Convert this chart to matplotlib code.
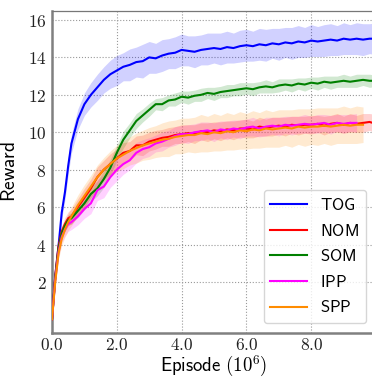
import numpy as np
import matplotlib
matplotlib.use('Agg')
import matplotlib.pyplot as plt
from matplotlib.ticker import FuncFormatter

plt.rcParams['mathtext.fontset'] = 'cm'

# episodes (10^6)
episodes = [0.0, 0.1, 0.2, 0.3, 0.4, 0.5, 0.6, 0.8, 1.0, 1.2,
            1.4, 1.6, 1.8, 2.0, 2.2, 2.4, 2.6, 2.8, 3.0, 3.2,
            3.4, 3.6, 3.8, 4.0, 4.2, 4.4, 4.6, 4.8, 5.0, 5.2,
            5.4, 5.6, 5.8, 6.0, 6.2, 6.4, 6.6, 6.8, 7.0, 7.2,
            7.4, 7.6, 7.8, 8.0, 8.2, 8.4, 8.6, 8.8, 9.0, 9.2,
            9.4, 9.6, 9.8, 10.0]

tog = [0.0, 2.3, 3.9, 5.7, 6.8, 8.2, 9.4, 10.7, 11.5, 12.0,
       12.4, 12.8, 13.1, 13.3, 13.5, 13.6, 13.75, 13.8, 14.0, 13.95,
       14.1, 14.2, 14.25, 14.4, 14.35, 14.3, 14.4, 14.45, 14.5, 14.45,
       14.55, 14.5, 14.6, 14.65, 14.6, 14.7, 14.65, 14.75, 14.7, 14.8,
       14.75, 14.85, 14.8, 14.9, 14.85, 14.9, 14.95, 14.9, 15.0, 14.95,
       15.0, 14.95, 15.0, 15.0]
nom = [0.0, 2.3, 3.9, 4.7, 5.1, 5.4, 5.5, 6.0, 6.5, 7.0,
       7.6, 8.0, 8.3, 8.6, 8.9, 9.0, 9.3, 9.3, 9.5, 9.6,
       9.7, 9.75, 9.85, 9.9, 9.95, 9.9, 10.05, 10.0, 10.1, 10.05,
       10.15, 10.1, 10.2, 10.2, 10.15, 10.3, 10.25, 10.3, 10.35, 10.3,
       10.4, 10.35, 10.4, 10.4, 10.45, 10.35, 10.45, 10.5, 10.4, 10.5,
       10.45, 10.5, 10.55, 10.45]
som = [0.0, 2.2, 3.8, 4.6, 5.0, 5.3, 5.4, 5.8, 6.2, 6.7,
       7.0, 7.5, 8.1, 8.9, 9.6, 10.1, 10.6, 10.9, 11.2, 11.5,
       11.5, 11.7, 11.75, 11.9, 11.85, 11.95, 12.0, 12.1, 12.05, 12.15,
       12.2, 12.25, 12.3, 12.35, 12.3, 12.4, 12.45, 12.4, 12.5, 12.55,
       12.5, 12.6, 12.55, 12.65, 12.6, 12.7, 12.65, 12.7, 12.75, 12.7,
       12.75, 12.8, 12.75, 12.75]
ipp = [0.0, 2.1, 3.6, 4.4, 4.8, 5.1, 5.2, 5.5, 5.9, 6.2,
       6.9, 7.1, 7.6, 8.0, 8.3, 8.5, 8.9, 9.1, 9.2, 9.4,
       9.5, 9.65, 9.8, 9.9, 9.9, 10.0, 10.05, 10.1, 10.0, 10.15,
       10.1, 10.2, 10.15, 10.25, 10.3, 10.2, 10.3, 10.35, 10.3, 10.4,
       10.35, 10.4, 10.45, 10.4, 10.45, 10.5, 10.4, 10.5, 10.45, 10.5,
       10.5]
spp = [0.0, 2.0, 3.5, 4.3, 4.8, 5.2, 5.5, 6.1, 6.6, 7.1,
       7.6, 8.0, 8.3, 8.6, 8.8, 9.0, 9.15, 9.3, 9.4, 9.5,
       9.6, 9.65, 9.75, 9.8, 9.85, 9.85, 9.95, 9.9, 10.0, 9.95,
       10.05, 10.0, 10.1, 10.05, 10.15, 10.1, 10.2, 10.15, 10.2, 10.25,
       10.2, 10.3, 10.25, 10.3, 10.3, 10.35, 10.3, 10.35, 10.4, 10.35,
       10.4, 10.4]

# spread (half width of shaded band)
tog_std = [0.05, 0.2, 0.3, 0.35, 0.4, 0.45, 0.5, 0.55, 0.6, 0.65,
           0.7, 0.7, 0.75, 0.8, 0.75, 0.85, 0.8, 0.9, 0.85, 0.8,
           0.85, 0.8, 0.85, 0.85, 0.8, 0.85, 0.8, 0.85, 0.8, 0.85,
           0.85, 0.8, 0.85, 0.85, 0.8, 0.85, 0.85, 0.8, 0.85, 0.8,
           0.85, 0.85, 0.8, 0.85, 0.8, 0.85, 0.85, 0.8, 0.85, 0.8,
           0.85, 0.85, 0.8, 0.85]
nom_std = [0.05, 0.2, 0.3, 0.3, 0.35, 0.35, 0.4, 0.45, 0.5, 0.5,
           0.55, 0.5, 0.55, 0.5, 0.55, 0.5, 0.5, 0.55, 0.5, 0.5,
           0.45, 0.5, 0.45, 0.5, 0.45, 0.5, 0.45, 0.5, 0.45, 0.5,
           0.45, 0.5, 0.45, 0.5, 0.45, 0.5, 0.45, 0.5, 0.45, 0.5,
           0.45, 0.5, 0.45, 0.5, 0.45, 0.5, 0.45, 0.5, 0.45, 0.5,
           0.45, 0.5, 0.45, 0.5]
som_std = [0.05, 0.2, 0.25, 0.3, 0.3, 0.3, 0.3, 0.35, 0.35, 0.4,
           0.4, 0.45, 0.45, 0.4, 0.45, 0.4, 0.4, 0.35, 0.35, 0.3,
           0.35, 0.3, 0.35, 0.3, 0.35, 0.3, 0.35, 0.3, 0.35, 0.3,
           0.35, 0.3, 0.35, 0.3, 0.35, 0.3, 0.35, 0.3, 0.35, 0.3,
           0.35, 0.3, 0.35, 0.3, 0.35, 0.3, 0.35, 0.3, 0.35, 0.3,
           0.35, 0.3, 0.35, 0.3]
ipp_std = [0.05, 0.2, 0.3, 0.3, 0.35, 0.4, 0.4, 0.45, 0.5, 0.55,
           0.55, 0.6, 0.55, 0.6, 0.55, 0.5, 0.55, 0.5, 0.5, 0.45,
           0.5, 0.45, 0.5, 0.45, 0.5, 0.45, 0.5, 0.45, 0.5, 0.45,
           0.5, 0.45, 0.5, 0.45, 0.5, 0.45, 0.5, 0.45, 0.5, 0.45,
           0.5, 0.45, 0.5, 0.45, 0.5, 0.45, 0.5, 0.45, 0.5, 0.45,
           0.5]
spp_std = [0.05, 0.2, 0.3, 0.35, 0.4, 0.45, 0.5, 0.55, 0.6, 0.6,
           0.65, 0.65, 0.7, 0.7, 0.75, 0.75, 0.8, 0.8, 0.85, 0.85,
           0.9, 0.95, 0.9, 0.95, 0.9, 0.95, 1.0, 0.95, 1.0, 0.95,
           1.0, 0.95, 1.0, 0.95, 1.0, 0.95, 1.0, 0.95, 1.0, 0.95,
           1.0, 0.95, 1.0, 0.95, 1.0, 0.95, 1.0, 0.95, 1.0, 0.95,
           1.0, 0.95]

labels = ['TOG', 'NOM', 'SOM', 'IPP', 'SPP']
series = [tog, nom, som, ipp, spp]
spreads = [tog_std, nom_std, som_std, ipp_std, spp_std]
colors = ['#0000ff', '#ff0000', '#008000', '#ff00ff', '#ff8c00']

fig = plt.figure(figsize=(3.72, 3.78), dpi=100)
ax = fig.add_axes([52 / 372, 45 / 378, 324 / 372, 322 / 378])

for lab, y, s, c in zip(labels, series, spreads, colors):
    y = np.array(y)
    s = np.array(s)
    x = np.array(episodes[:len(y)])
    ax.fill_between(x, y - s, y + s, color=c, alpha=0.18, linewidth=0, zorder=2)
    ax.plot(x, y, color=c, linewidth=1.5, label='$\\mathsf{' + lab + '}$', zorder=3)

ax.set_xlim(0, 10)
ax.set_ylim(-0.73, 16.48)
ax.set_xticks([0, 2, 4, 6, 8])
ax.set_yticks([2, 4, 6, 8, 10, 12, 14, 16])
ax.xaxis.set_major_formatter(FuncFormatter(lambda v, p: '$\\mathsf{%.1f}$' % v))
ax.yaxis.set_major_formatter(FuncFormatter(lambda v, p: '$%d$' % v))
ax.tick_params(length=0, labelsize=12.5, colors='#222222')
ax.tick_params(axis='x', pad=2)
ax.tick_params(axis='y', pad=4)

ax.grid(True, linestyle=':', color='#999999', linewidth=0.8, zorder=0)
ax.set_axisbelow(True)
for side in ['left', 'bottom']:
    ax.spines[side].set_color('#808080')
    ax.spines[side].set_linewidth(1.8)
ax.spines['top'].set_color('#777777')
ax.spines['top'].set_linewidth(0.9)
ax.spines['right'].set_visible(False)

ax.set_xlabel('$\\mathsf{Episode}\\ (10^6)$', fontsize=13.5, labelpad=0)
ax.set_ylabel('$\\mathsf{Reward}$', fontsize=14, labelpad=6)

ax.legend(loc='lower right', fontsize=12, framealpha=0.8,
          edgecolor='#cccccc', handlelength=2.2, labelspacing=0.45,
          borderaxespad=0.6)

fig.savefig('out.png', dpi=100)
